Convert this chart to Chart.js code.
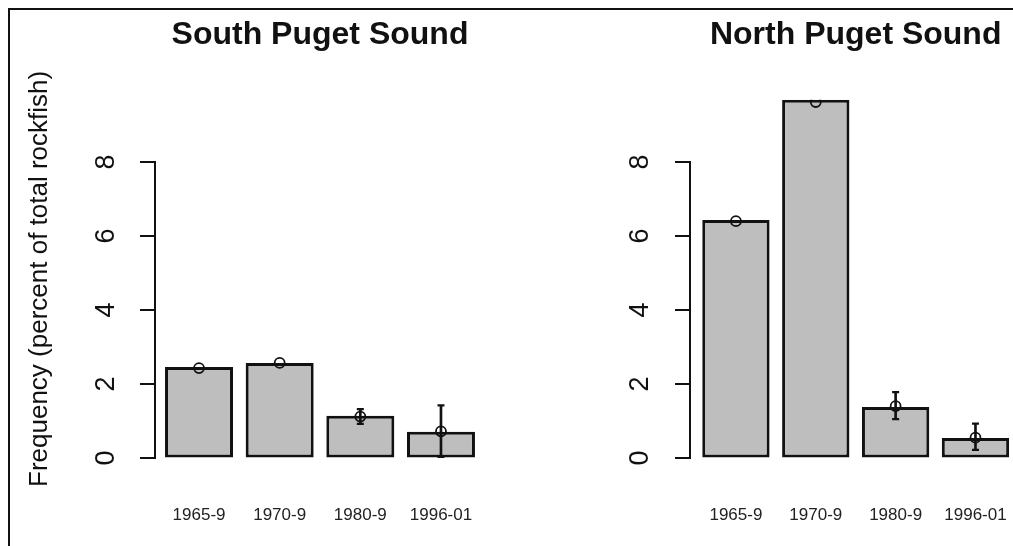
<!DOCTYPE html>
<html>
<head>
<meta charset="utf-8">
<script src="https://cdn.jsdelivr.net/npm/chart.js@4.4.1/dist/chart.umd.min.js"></script>
<style>
  html, body { margin: 0; padding: 0; background: #fff; width: 1013px; height: 546px; overflow: hidden; }
  #frame { position: absolute; left: 8px; top: 8px; width: 1100px; height: 600px;
           border-top: 2px solid #111; border-left: 2px solid #111; }
  canvas { position: absolute; top: 0; }
  #south { left: 0; }
  #north { left: 507px; }
</style>
</head>
<body>
<div id="frame"></div>
<canvas id="south" width="507" height="546"></canvas>
<canvas id="north" width="520" height="546"></canvas>
<script>
// Periodos
const categories = ["1965-9", "1970-9", "1980-9", "1996-01"];
const yTicks = [0, 2, 4, 6, 8];
const yMax = 9.68;

// South Puget Sound
const southFreq = [2.46, 2.57, 1.14, 0.71];
const southMean = [2.43, 2.57, 1.12, 0.72];
const southLow = [null, null, 0.92, 0.0];
const southHigh = [null, null, 1.32, 1.42];

// North Puget Sound
const northFreq = [6.43, 9.68, 1.38, 0.54];
const northMean = [6.40, 9.62, 1.40, 0.55];
const northLow = [null, null, 1.05, 0.22];
const northHigh = [null, null, 1.78, 0.93];

const FONT = "'Liberation Sans', Arial, Helvetica, sans-serif";
const INK = "#111";
const CLEAR = "rgba(0,0,0,0)";

/**
 * Eje Y estilo R: la línea solo va del primer al último tick
 */
const rAxis = {
  id: "rAxis",
  afterDraw(chart, args, opts) {
    const y = chart.scales.y;
    const ctx = chart.ctx;
    const x0 = chart.chartArea.left - opts.gap;
    ctx.save();
    ctx.strokeStyle = INK;
    ctx.lineWidth = 2;
    ctx.beginPath();
    ctx.moveTo(x0, y.getPixelForValue(yTicks[0]) + 1);
    ctx.lineTo(x0, y.getPixelForValue(yTicks[yTicks.length - 1]) - 1);
    y.ticks.forEach((t) => {
      const py = y.getPixelForValue(t.value);
      ctx.moveTo(x0 - opts.tick, py);
      ctx.lineTo(x0, py);
    });
    ctx.stroke();
    ctx.restore();
  },
};

/**
 * Crea un panel de barras con su error
 */
function makePanel(id, title, freq, mean, low, high, cfg) {
  const ctx = document.getElementById(id).getContext("2d");
  return new Chart(ctx, {
    data: {
      labels: categories,
      datasets: [
        {
          type: "bar",
          data: freq,
          backgroundColor: "#bebebe",
          borderColor: INK,
          borderWidth: 3,
          borderSkipped: false,
          barPercentage: 0.843,
          categoryPercentage: 1,
          grouped: false,
          order: 3,
        },
        {
          type: "bar",
          data: low.map((lo, i) => (lo == null ? null : [lo, high[i]])),
          backgroundColor: INK,
          borderWidth: 0,
          barThickness: 2,
          grouped: false,
          order: 2,
        },
        {
          type: "line",
          data: high,
          showLine: false,
          pointStyle: "line",
          pointRadius: 3.5,
          pointBorderWidth: 2.2,
          pointBorderColor: INK,
          order: 1,
        },
        {
          type: "line",
          data: low,
          showLine: false,
          pointStyle: "line",
          pointRadius: 3.5,
          pointBorderWidth: 2.2,
          pointBorderColor: INK,
          order: 1,
        },
        {
          type: "line",
          data: mean,
          showLine: false,
          pointStyle: "circle",
          pointRadius: 5,
          pointBorderWidth: 1.8,
          pointBorderColor: INK,
          pointBackgroundColor: CLEAR,
          order: 0,
        },
      ],
    },
    options: {
      responsive: false,
      animation: false,
      events: [],
      layout: { padding: { left: 0, right: cfg.padRight, top: 0, bottom: 0 } },
      plugins: {
        legend: { display: false },
        tooltip: { enabled: false },
        title: {
          display: true,
          text: title,
          fullSize: false,
          color: INK,
          font: { family: FONT, size: 32, weight: "bold" },
          padding: { top: 15.8, bottom: 45.6 },
        },
        rAxis: { gap: cfg.gap, tick: 15 },
      },
      scales: {
        x: {
          type: "category",
          offset: true,
          // marcas invisibles: solo sirven para bajar las etiquetas
          grid: { display: true, drawOnChartArea: false, drawTicks: true, tickLength: 45, color: CLEAR },
          border: { display: false },
          ticks: {
            padding: 2,
            maxRotation: 0,
            color: "#222",
            font: { family: FONT, size: 17 },
          },
          afterFit(s) { s.height = 88; },
        },
        y: {
          min: 0,
          max: yMax,
          afterBuildTicks(s) { s.ticks = yTicks.map((v) => ({ value: v })); },
          grid: { display: true, drawOnChartArea: false, drawTicks: true, tickLength: cfg.labelPad, color: CLEAR },
          border: { display: false },
          ticks: {
            minRotation: 90,
            maxRotation: 90,
            crossAlign: "center",
            padding: 0,
            color: INK,
            font: { family: FONT, size: 27 },
          },
          title: {
            display: cfg.yTitle,
            text: "Frequency (percent of total rockfish)",
            color: INK,
            font: { family: FONT, size: 26 },
            padding: { top: 24.4, bottom: 0 },
          },
          afterFit(s) { s.width = cfg.axisWidth; },
        },
      },
    },
    plugins: [rAxis],
  });
}

makePanel("south", "South Puget Sound", southFreq, southMean, southLow, southHigh,
  { axisWidth: 158.7, padRight: 25.7, gap: 3.7, labelPad: 45, yTitle: true });
makePanel("north", "North Puget Sound", northFreq, northMean, northLow, northHigh,
  { axisWidth: 189, padRight: 11.6, gap: 6, labelPad: 47.5, yTitle: false });
</script>
</body>
</html>
